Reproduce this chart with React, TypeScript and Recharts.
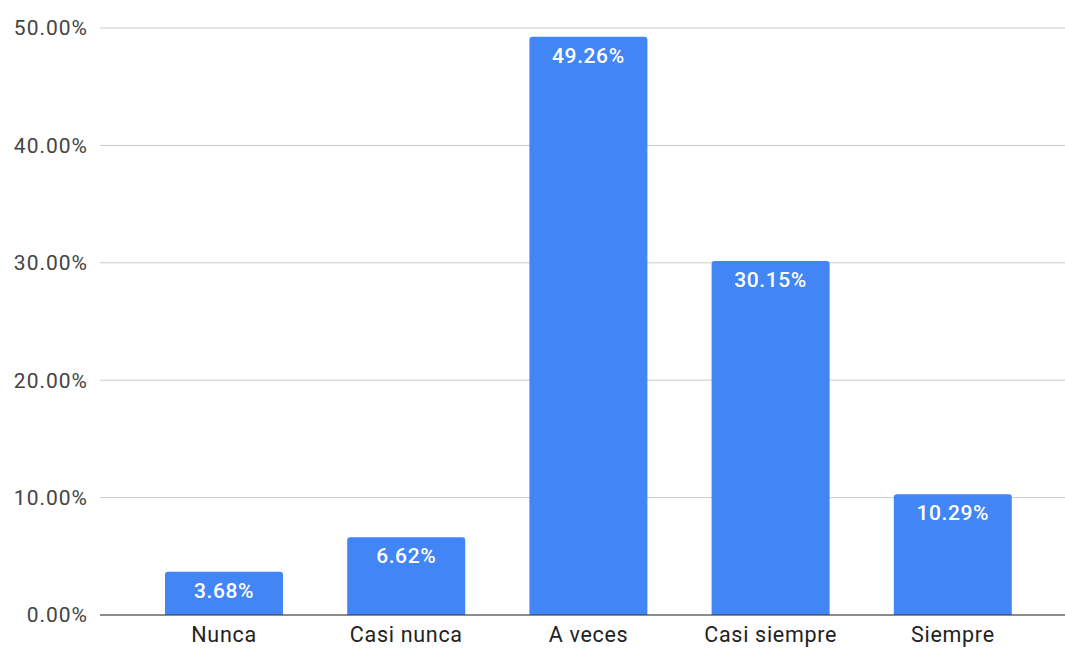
import { BarChart, Bar, XAxis, YAxis, CartesianGrid, LabelList } from "recharts";

const categories = ["Nunca", "Casi nunca", "A veces", "Casi siempre", "Siempre"];
const percentages = [3.68, 6.62, 49.26, 30.15, 10.29];
const yTicks = [0, 10, 20, 30, 40, 50];

const data = categories.map((name, i) => ({ name, value: percentages[i] }));

const App = () => {
  return (
    <div style={{ position: "absolute", left: 0, top: 0, background: "#fff" }}>
      <BarChart
        width={1065}
        height={649}
        data={data}
        margin={{ top: 28, right: 0, bottom: 0, left: 0 }}
        barCategoryGap={32}
      >
        <CartesianGrid vertical={false} stroke="#cccccc" />
        <XAxis
          dataKey="name"
          padding={{ left: 33, right: 21 }}
          height={34}
          tickLine={false}
          axisLine={{ stroke: "#333333" }}
          tick={{ fill: "#222222", fontSize: 21.5, fontFamily: "Roboto", letterSpacing: 0.7 }}
          tickMargin={6}
        />
        <YAxis
          width={100}
          domain={[0, 50]}
          ticks={yTicks}
          tickLine={false}
          axisLine={false}
          tick={{ fill: "#444444", fontSize: 21, fontFamily: "Roboto", letterSpacing: 1 }}
          tickMargin={6}
          tickFormatter={(v) => `${v.toFixed(2)}%`}
        />
        <Bar dataKey="value" fill="#4285f4" radius={[3, 3, 0, 0]} isAnimationActive={false}>
          <LabelList
            dataKey="value"
            position="insideTop"
            offset={11}
            fill="#ffffff"
            fontSize={21}
            fontFamily="Roboto"
            fontWeight={500}
            letterSpacing={0.6}
            formatter={(v: number) => `${v.toFixed(2)}%`}
          />
        </Bar>
      </BarChart>
    </div>
  );
};

export default App;
